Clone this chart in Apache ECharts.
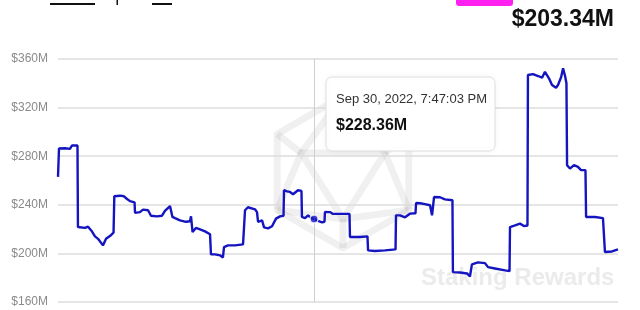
<!DOCTYPE html>
<html>
<head>
<meta charset="utf-8">
<script src="https://cdn.jsdelivr.net/npm/echarts@6/dist/echarts.min.js"></script>
<style>
html,body{margin:0;padding:0;background:#fff;}
#chart{width:640px;height:310px;}
</style>
</head>
<body>
<div id="chart"></div>
<script>
// Days since start of the window (1 year window) and value in $M
const days = [0,0.65,4.6,7.8,9.1,12.7,13.0,14.3,17.6,19.6,22.2,24.1,26.1,27.4,29.3,31.3,32.6,34.5,36.2,36.7,40.4,43.0,44.8,46.9,49.9,50.2,53.4,55.4,58.7,60.6,64.5,67.8,69.7,73.0,74.0,74.6,76.3,79.5,83.4,86.0,86.7,87.7,89.9,92.6,95.8,99.1,99.7,102.3,105.6,107.5,108.2,110.8,115.4,120.6,121.6,121.9,123.8,125.1,128.4,129.7,130.4,133.0,134.3,136.9,139.5,142.1,144.7,147.0,147.3,149.3,151.2,153.2,154.5,156.4,158.7,159.0,161.0,163.0,165.0,166.9,169.5,172.1,173.7,174.0,177.3,179.2,183.8,190.0,190.3,196.8,201.7,202.1,206.6,213.1,220.0,220.3,222.9,226.2,229.4,233.0,233.4,236.0,239.2,242.5,243.8,245.1,249.0,252.2,257.1,257.4,262.0,266.6,268.5,269.8,273.7,278.3,280.3,284.8,291.4,294.3,294.6,297.9,301.1,303.7,306.0,306.3,309.6,312.9,315.5,317.4,320.0,322.0,324.6,325.9,327.9,329.2,330.5,331.4,331.8,333.7,336.3,338.9,340.9,343.8,344.2,350.0,355.2,356.2,356.5,361.1,365.0];
const values = [263,286.3,286.5,286,288.8,288.8,221.7,222,221,222,218,214,212,210.7,206.6,212,213,215,217,247,247.5,247,245,243,242,233.4,234,236,235.5,231,230.5,231,235,239,239.6,230,229,227.2,226,226.5,230.5,217.6,221,219.8,218.1,215.7,199.2,199.2,198.4,196.7,205.2,206.6,206.6,207.4,208,235.5,238,238.8,236.3,234,226,227.2,221.4,220.6,222.3,228.6,230.5,231,252,251.1,250.6,248.7,250.3,252,251.4,230,229,231.3,229,228.36,226.7,225.6,226,234.1,234,232.5,232.5,232.5,213.5,213.5,214,202.5,202,202.5,203.3,231.3,231.3,229.7,232.7,233,241.5,241.3,240.5,239.6,231.3,246.4,246.2,244.5,243.7,184.6,184.3,183.5,181,191,192.6,192,188.7,187.6,186,185.4,221.7,223,224.5,222.5,223,346.8,347.6,346,344.6,349.5,344.1,338.6,336.3,338.6,345,352.3,346,340,272.6,269.8,272.6,271.2,268.5,268.5,230,230,229,229,201.1,201.6,203.3];
const yTicks = [160,200,240,280,320,360];
const hoverDay = 166.9;
const hoverValue = 228.36;
const hoverLabel = 'Sep 30, 2022, 7:47:03 PM';
const currentValue = 203.34;

const fmt = v => '$' + v.toFixed(2) + 'M';
const chart = echarts.init(document.getElementById('chart'), null, {renderer:'canvas'});

const cx = 343, cy = 172, R = 76;
const hex = [];
for (let i = 0; i < 6; i++) {
  const a = -Math.PI/2 + i*Math.PI/3;
  hex.push([cx + R*Math.cos(a), cy + R*Math.sin(a)]);
}
const tri = [[cx-0.55*R, cy-0.25*R],[cx+0.55*R, cy-0.25*R],[cx, cy+0.62*R]];
const wmStyle = {stroke:'rgba(0,0,0,0.06)', lineWidth:7, fill:null, lineJoin:'round'};
const wmLines = [
  [hex[0], tri[0]],[hex[0], tri[1]],[hex[5], tri[0]],[hex[1], tri[1]],
  [hex[4], tri[0]],[hex[4], tri[2]],[hex[2], tri[1]],[hex[2], tri[2]],[hex[3], tri[2]]
];

chart.setOption({
  animation:false,
  grid:{left:58, right:22, top:59, bottom:8},
  xAxis:{type:'value', min:0, max:365, show:false},
  yAxis:{
    type:'value', min:yTicks[0], max:yTicks[yTicks.length-1], interval:40,
    axisLine:{show:false}, axisTick:{show:false},
    axisLabel:{formatter:v => '$' + v + 'M', color:'#8a8a8a', fontSize:12, fontFamily:'Liberation Sans, Arial, sans-serif', margin:10},
    splitLine:{lineStyle:{color:'#dcdcdc', width:1.5}}
  },
  graphic:[
    {type:'polygon', z:-1, shape:{points:hex}, style:wmStyle, silent:true},
    {type:'polygon', z:-1, shape:{points:tri}, style:wmStyle, silent:true},
    ...wmLines.map(p => ({type:'polyline', z:-1, shape:{points:p}, style:wmStyle, silent:true})),
    {type:'text', z:-1, left:421, top:266, style:{text:'Staking Rewards', fill:'#ebebeb', font:'bold 24px "Liberation Sans", Arial, sans-serif'}},
    {type:'rect', shape:{x:50, y:3, width:45, height:2}, style:{fill:'#111'}},
    {type:'rect', shape:{x:116.5, y:0, width:1.5, height:5}, style:{fill:'#111'}},
    {type:'rect', shape:{x:152, y:3, width:20, height:2}, style:{fill:'#111'}},
    {type:'rect', shape:{x:456, y:-6, width:57, height:12, r:3}, style:{fill:'#ff1ff0'}},
    {type:'text', right:26, top:8, style:{text:fmt(currentValue), fill:'#111', font:'bold 23px "Liberation Sans", Arial, sans-serif'}},
    {type:'rect', z:20, shape:{x:326, y:77, width:169, height:74, r:6}, style:{fill:'#fff', stroke:'#dedede', lineWidth:1, shadowBlur:6, shadowColor:'rgba(0,0,0,0.06)'}},
    {type:'text', z:21, left:336, top:93, style:{text:hoverLabel, fill:'#333', font:'13px "Liberation Sans", Arial, sans-serif'}},
    {type:'text', z:21, left:336, top:118, style:{text:fmt(hoverValue), fill:'#111', font:'bold 16px "Liberation Sans", Arial, sans-serif'}}
  ],
  series:[
    {
      type:'line', data:days.map((d,i)=>[d, values[i]]), showSymbol:false,
      lineStyle:{color:'#1414c0', width:2.4}, itemStyle:{color:'#1414c0'},
      markLine:{silent:true, symbol:'none', label:{show:false}, lineStyle:{color:'#cfcfcf', width:1, type:'solid'},
        data:[{xAxis:hoverDay}]}
    },
    {
      type:'scatter', data:[[hoverDay, hoverValue]], symbolSize:8, z:5,
      itemStyle:{color:'#1414c0', borderColor:'#fff', borderWidth:1.5}
    }
  ]
});
</script>
</body>
</html>
